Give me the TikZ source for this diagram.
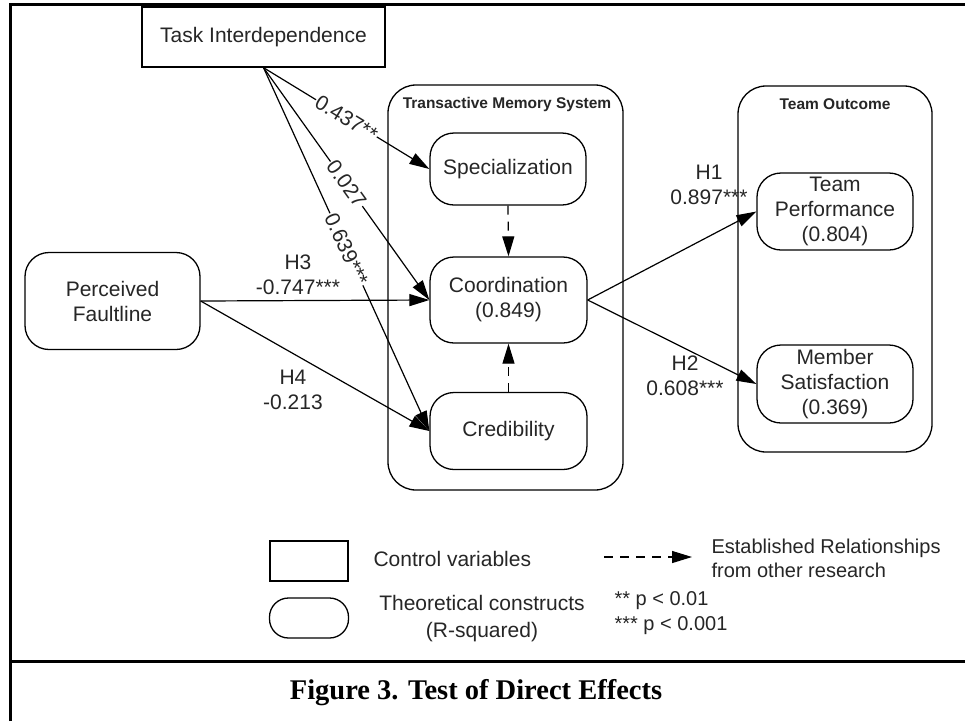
\documentclass[tikz,border=0pt]{standalone}
\usepackage{fontspec}
\setmainfont{Liberation Sans}
\newfontfamily\capfont{Liberation Serif}
\usetikzlibrary{arrows.meta}
\begin{document}
\begin{tikzpicture}[x=1pt,y=-1pt,
  every node/.style={font=\fontsize{21}{25}\selectfont, text=black!85},
  box/.style={draw, line width=1.3pt, inner sep=0pt},
  rbox/.style={draw, line width=1.3pt, rounded corners=24pt, inner sep=0pt, align=center},
  cont/.style={draw, line width=1.3pt, rounded corners=28pt, inner sep=0pt},
  contlbl/.style={font=\bfseries\fontsize{15.5}{18}\selectfont},
  arr/.style={line width=1.2pt, -{Triangle[length=20pt,width=12pt]}},
  darr/.style={arr, dash pattern=on 9pt off 7pt},
  lbl/.style={fill=white, inner sep=1pt, sloped, midway},
  hlbl/.style={align=center},
  frame/.style={line width=3pt}
]
\useasboundingbox (0,0) rectangle (965,721);
\fill[white] (0,0) rectangle (965,721);

% frame
\draw[frame] (10,721) -- (10,4) -- (965,4);
\draw[frame] (10,661) -- (965,661);

% containers
\node[cont, minimum width=235pt, minimum height=405pt] (tms) at (505.5,287.5) {};
\node[contlbl] (tmsl) at (507,104) {Transactive Memory System};
\node[cont, minimum width=194pt, minimum height=366pt] (to) at (835,269) {};
\node[contlbl] (tol) at (835,104) {Team Outcome};

% nodes
\node[box, minimum width=243pt, minimum height=60pt] (task) at (263.5,37) {Task Interdependence};
\node[rbox, minimum width=175pt, minimum height=97pt] (pf) at (112.5,301) {Perceived\\Faultline};
\node[rbox, minimum width=156pt, minimum height=72pt] (spec) at (508,169) {Specialization};
\node[rbox, minimum width=157pt, minimum height=86pt] (coord) at (508.5,300) {Coordination\\(0.849)};
\node[rbox, minimum width=157pt, minimum height=77pt] (cred) at (508.5,431) {Credibility};
\node[rbox, minimum width=156pt, minimum height=77pt] (tp) at (835,211.5) {Team\\Performance\\(0.804)};
\node[rbox, minimum width=156pt, minimum height=78pt] (ms) at (835,384) {Member\\Satisfaction\\(0.369)};

% connectors
\draw[arr] (task.south) -- node[lbl] {0.437**} (spec.west);
\draw[arr] (task.south) -- node[lbl] {0.027} (coord.west);
\draw[arr] (task.south) -- node[lbl] {0.639***} (cred.west);
\draw[arr] (pf.east) -- (coord.west);
\draw[arr] (pf.east) -- (cred.west);
\draw[arr] (coord.east) -- (tp.west);
\draw[arr] (coord.east) -- (ms.west);
\draw[darr] (spec.south) -- (coord.north);
\draw[darr] (cred.north) -- (coord.south);

% path labels
\node[hlbl] (h3) at (298,275) {H3\\-0.747***};
\node[hlbl] (h4) at (293,390) {H4\\-0.213};
\node[hlbl] (h1) at (709,185) {H1\\0.897***};
\node[hlbl] (h2) at (685,376) {H2\\0.608***};

% legend
\node[box, minimum width=78pt, minimum height=40pt] (lrect) at (309,561) {};
\node[anchor=west] (lcv) at (370,559) {Control variables};
\node[draw, line width=1.3pt, rounded corners=19pt, inner sep=0pt, minimum width=79pt, minimum height=40pt] (lround) at (309,618) {};
\node[align=center] (ltc) at (482,619) {Theoretical constructs\\[2pt](R-squared)};
\coordinate (la1) at (604,557);
\coordinate (la2) at (692,557);
\draw[darr] (la1) -- (la2);
\node[anchor=west, align=left, font=\fontsize{20}{24}\selectfont] (lest) at (708,558) {Established Relationships\\from other research};
\node[anchor=west, align=left, font=\fontsize{20}{25}\selectfont] (lp) at (611,613) {** p < 0.01\\*** p < 0.001};

% caption
\node[font=\capfont\bfseries\fontsize{28.5}{32}\selectfont, text=black] (cap) at (476,693) {Figure 3. Test of Direct Effects};
\end{tikzpicture}
\end{document}
